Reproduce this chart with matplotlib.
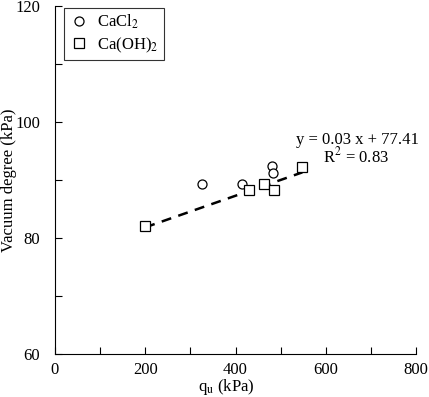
import numpy as np
import matplotlib
matplotlib.use("Agg")
from matplotlib import pyplot as plt
from matplotlib.ticker import MultipleLocator

plt.rcParams['font.family'] = ['Liberation Serif', 'DejaVu Serif']
plt.rcParams['mathtext.fontset'] = 'stix'

# CaCl2 points
cacl2_qu  = [326, 414, 480, 483]
cacl2_vac = [89.3, 89.3, 92.4, 91.2]
# Ca(OH)2 points
caoh_qu  = [200, 429, 464, 485, 548]
caoh_vac = [82.0, 88.2, 89.3, 88.2, 92.2]

eq_text = "y = 0.03 x + 77.41"
r2_text = "R$^2$ = 0.83"

fig = plt.figure(figsize=(4.29, 3.97), dpi=100)
ax = fig.add_axes([0.128, 0.108, 0.842, 0.877])

ax.plot(cacl2_qu, cacl2_vac, 'o', mfc='white', mec='black', mew=0.9, ms=6.5, label='CaCl$_2$', zorder=3)
ax.plot(caoh_qu, caoh_vac, 's', mfc='white', mec='black', mew=0.9, ms=6.5, label='Ca(OH)$_2$', zorder=3)

# trend line on Ca(OH)2
k, b = np.polyfit(caoh_qu, caoh_vac, 1)
xx = np.array([min(caoh_qu), max(caoh_qu)])
ax.plot(xx, k * xx + b, '--', color='black', lw=1.8, dashes=(4, 3), zorder=2)

ax.text(670, 96.9, eq_text, ha='center', va='center', fontsize=12)
ax.text(668, 94.0, r2_text, ha='center', va='center', fontsize=12)

ax.set_xlim(0, 800)
ax.set_ylim(60, 120)
ax.xaxis.set_major_locator(MultipleLocator(200))
ax.xaxis.set_minor_locator(MultipleLocator(100))
ax.yaxis.set_major_locator(MultipleLocator(20))
ax.yaxis.set_minor_locator(MultipleLocator(10))
ax.tick_params(which='both', direction='in', labelsize=12, width=0.8)
ax.tick_params(which='major', length=5)
ax.tick_params(which='minor', length=5)
ax.tick_params(axis='y', pad=10.5)
ax.tick_params(axis='x', pad=5.5)
ax.spines['top'].set_visible(False)
ax.spines['right'].set_visible(False)

ax.set_xlabel('q$_\\mathrm{u}$ (kPa)', fontsize=12)
ax.set_ylabel('Vacuum degree (kPa)', fontsize=12)
ax.xaxis.set_label_coords(0.474, -0.066)
ax.yaxis.set_label_coords(-0.104, 0.5)

leg = ax.legend(loc='upper left', bbox_to_anchor=(64 / 429, 1 - 8 / 397),
                bbox_transform=fig.transFigure, fontsize=12, frameon=True,
                fancybox=False, edgecolor='black', handletextpad=0.5, borderpad=0.3,
                handlelength=1.2, labelspacing=0.25, borderaxespad=0)
leg.get_frame().set_linewidth(0.8)

fig.savefig("out.png", dpi=100)
